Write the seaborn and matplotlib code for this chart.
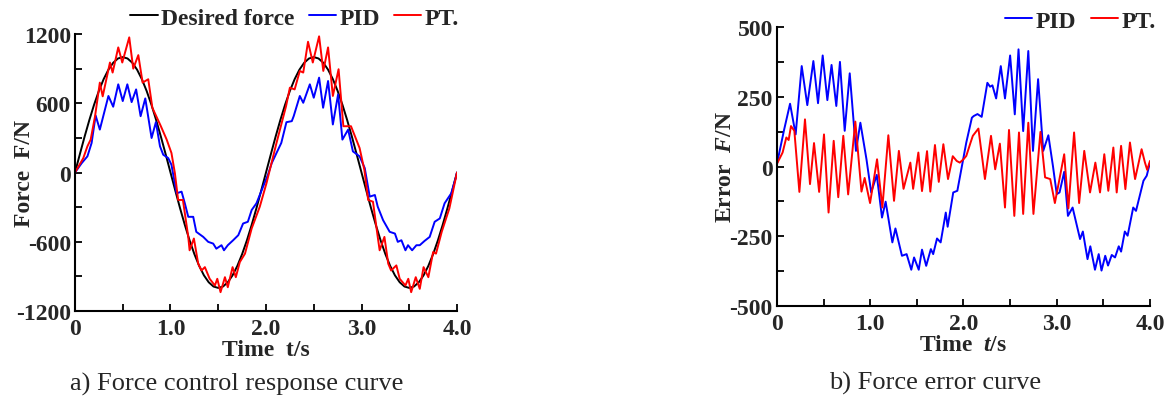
import numpy as np
import pandas as pd
import seaborn as sns
import matplotlib.pyplot as plt
from matplotlib.ticker import MultipleLocator

# --- Data ---
# Desired force, sampled every 0.05 s
desired_t = np.linspace(0, 4, 81)
desired_f = [0, 156, 309, 454, 588, 707, 809, 891, 951, 988, 1000, 988, 951, 891, 809, 707, 588, 454, 309, 156,
             0, -156, -309, -454, -588, -707, -809, -891, -951, -988, -1000, -988, -951, -891, -809, -707, -588,
             -454, -309, -156,
             0, 156, 309, 454, 588, 707, 809, 891, 951, 988, 1000, 988, 951, 891, 809, 707, 588, 454, 309, 156,
             0, -156, -309, -454, -588, -707, -809, -891, -951, -988, -1000, -988, -951, -891, -809, -707, -588,
             -454, -309, -156, 0]

pid_t = [0, 0.07, 0.13, 0.174, 0.216, 0.26, 0.35, 0.40, 0.453, 0.50, 0.548, 0.593, 0.64, 0.687, 0.736, 0.802,
         0.847, 0.89, 0.924, 0.976, 1.01, 1.064, 1.116, 1.15, 1.186, 1.238, 1.27, 1.343, 1.395, 1.447, 1.48,
         1.534, 1.56, 1.60, 1.656, 1.71, 1.76, 1.81, 1.85, 1.90, 1.97, 2.02, 2.06, 2.11, 2.16, 2.214, 2.27,
         2.29, 2.354, 2.39, 2.459, 2.50, 2.556, 2.598, 2.65, 2.70, 2.755, 2.80, 2.86, 2.91, 2.98, 3.034, 3.086,
         3.14, 3.17, 3.226, 3.295, 3.35, 3.38, 3.418, 3.46, 3.487, 3.53, 3.575, 3.61, 3.66, 3.714, 3.766, 3.82,
         3.87, 3.94, 3.99, 4.0]
pid_f = [0, 81, 140, 256, 494, 372, 663, 570, 764, 619, 764, 610, 720, 488, 642, 299, 436, 227, 154, 125, 67,
         -180, -166, -267, -384, -384, -514, -558, -601, -616, -660, -630, -674, -630, -587, -543, -442, -427,
         -325, -267, -122, -20, 81, 169, 256, 436, 445, 488, 663, 604, 764, 648, 822, 561, 793, 416, 677, 285,
         372, 183, 140, 38, -209, -195, -296, -413, -514, -529, -601, -587, -674, -630, -674, -630, -630, -593,
         -558, -427, -398, -267, -180, -35, 0]

pt_t = [0, 0.087, 0.13, 0.164, 0.21, 0.26, 0.29, 0.366, 0.394, 0.453, 0.495, 0.568, 0.61, 0.663, 0.708, 0.767,
        0.81, 0.896, 0.96, 1.01, 1.046, 1.08, 1.13, 1.186, 1.20, 1.245, 1.29, 1.325, 1.36, 1.41, 1.465, 1.49,
        1.524, 1.57, 1.60, 1.65, 1.684, 1.726, 1.78, 1.85, 1.935, 2.005, 2.11, 2.21, 2.25, 2.30, 2.354, 2.39,
        2.44, 2.49, 2.556, 2.60, 2.65, 2.70, 2.76, 2.81, 2.89, 2.98, 3.03, 3.07, 3.12, 3.17, 3.19, 3.24, 3.28,
        3.31, 3.365, 3.40, 3.46, 3.49, 3.52, 3.568, 3.61, 3.65, 3.70, 3.75, 3.78, 3.84, 3.92, 4.0]
pt_f = [0, 125, 227, 285, 488, 779, 660, 953, 866, 1084, 953, 1171, 900, 1017, 779, 808, 561, 407, 285, 169,
        -6, -238, -238, -558, -674, -572, -790, -849, -820, -921, -979, -921, -1037, -907, -994, -820, -907,
        -776, -703, -485, -296, -93, 256, 575, 735, 720, 880, 866, 1133, 953, 1180, 880, 1084, 663, 895, 401,
        401, 212, 23, -238, -253, -558, -674, -558, -790, -849, -805, -921, -979, -921, -1037, -907, -1008,
        -820, -907, -689, -703, -514, -311, 0]

pid_err_t = [0, 0.075, 0.14, 0.2, 0.265, 0.325, 0.39, 0.44, 0.49, 0.54, 0.585, 0.636, 0.675, 0.726, 0.78, 0.847,
             0.894, 0.96, 1.01, 1.07, 1.126, 1.165, 1.237, 1.27, 1.34, 1.39, 1.44, 1.47, 1.52, 1.555, 1.6, 1.65,
             1.675, 1.716, 1.755, 1.81, 1.83, 1.89, 1.934, 2.03, 2.09, 2.11, 2.15, 2.195, 2.256, 2.285, 2.31,
             2.35, 2.40, 2.445, 2.50, 2.55, 2.59, 2.64, 2.695, 2.745, 2.80, 2.855, 2.91, 2.96, 3.0, 3.03, 3.08,
             3.12, 3.17, 3.25, 3.28, 3.33, 3.36, 3.41, 3.45, 3.48, 3.52, 3.55, 3.59, 3.625, 3.665, 3.69, 3.73,
             3.76, 3.82, 3.85, 3.93, 3.965, 4.0]
pid_err = [10, 130, 225, 115, 360, 220, 378, 227, 398, 238, 364, 217, 375, 128, 334, 56, 157, 25, -93, -30,
           -183, -126, -272, -222, -320, -314, -370, -326, -370, -298, -356, -296, -314, -258, -272, -165, -216,
           -93, -87, 86, 175, 181, 188, 178, 300, 286, 291, 244, 360, 244, 398, 187, 420, 127, 414, 56, 313, 56,
           112, 0, -99, -93, -19, -177, -147, -260, -233, -332, -286, -370, -314, -373, -320, -355, -317, -326,
           -286, -305, -233, -248, -147, -159, -51, -33, 14]

pt_err_t = [0, 0.06, 0.1, 0.125, 0.15, 0.186, 0.24, 0.30, 0.354, 0.397, 0.452, 0.504, 0.553, 0.608, 0.657,
            0.711, 0.763, 0.84, 0.906, 0.94, 0.998, 1.073, 1.13, 1.194, 1.255, 1.307, 1.357, 1.43, 1.46, 1.516,
            1.555, 1.609, 1.644, 1.694, 1.735, 1.784, 1.834, 1.885, 1.927, 1.96, 2.0, 2.03, 2.076, 2.1, 2.16,
            2.23, 2.295, 2.34, 2.39, 2.445, 2.488, 2.545, 2.595, 2.64, 2.695, 2.75, 2.825, 2.875, 2.93, 2.98,
            3.08, 3.125, 3.186, 3.24, 3.295, 3.357, 3.414, 3.464, 3.51, 3.553, 3.607, 3.643, 3.69, 3.736, 3.785,
            3.84, 3.91, 3.946, 3.97, 4.0]
pt_err = [10, 50, 104, 95, 145, 128, -91, 169, -63, 84, -91, 115, -165, 92, -110, 110, -100, 161, -90, -41,
          -131, 26, -147, 112, -123, 56, -80, 14, -80, 50, -88, 55, -90, 77, -55, 80, -45, 37, 20, 14, 26, 38, 86,
          110, 136, -45, 110, -10, 82, -147, 131, -177, 122, -170, 157, -170, 124, -39, -45, -131, 44, -150, 122,
          -131, 56, -93, 14, -93, 44, -87, 68, -93, 74, -81, 86, -45, 62, 14, -12, 20]

series_colors = {"Desired force": "black", "PID": "#0000ff", "PT.": "#ff0000"}

force_df = pd.concat([
    pd.DataFrame({"t": desired_t, "v": desired_f, "series": "Desired force"}),
    pd.DataFrame({"t": pid_t, "v": pid_f, "series": "PID"}),
    pd.DataFrame({"t": pt_t, "v": pt_f, "series": "PT."}),
], ignore_index=True)

error_df = pd.concat([
    pd.DataFrame({"t": pid_err_t, "v": pid_err, "series": "PID"}),
    pd.DataFrame({"t": pt_err_t, "v": pt_err, "series": "PT."}),
], ignore_index=True)

# --- Style ---
sns.set_style("ticks")
plt.rcParams["font.family"] = ["Liberation Serif", "DejaVu Serif"]
plt.rcParams["font.weight"] = "bold"
plt.rcParams["axes.labelweight"] = "bold"
plt.rcParams["axes.unicode_minus"] = False
plt.rcParams["mathtext.fontset"] = "custom"
plt.rcParams["mathtext.rm"] = "Liberation Serif:bold"
plt.rcParams["mathtext.it"] = "Liberation Serif:italic:bold"

fig = plt.figure(figsize=(11.7, 4.02), dpi=100)
ax1 = fig.add_axes([0.0641, 0.2239, 0.3265, 0.689])
ax2 = fig.add_axes([0.6641, 0.2363, 0.3188, 0.694])

line_kws = dict(estimator=None, sort=False, lw=1.4, solid_joinstyle="round", solid_capstyle="round")
sns.lineplot(data=force_df, x="t", y="v", hue="series", hue_order=["Desired force", "PID", "PT."],
             palette=series_colors, ax=ax1, **line_kws)
sns.lineplot(data=error_df, x="t", y="v", hue="series", hue_order=["PID", "PT."],
             palette=series_colors, ax=ax2, **line_kws)


def style_axis(ax, ylim, yticks, yminor):
    ax.set_xlim(0, 4)
    ax.set_ylim(*ylim)
    ax.set_xticks([0, 1, 2, 3, 4], ["0", "1.0", "2.0", "3.0", "4.0"])
    ax.xaxis.set_minor_locator(MultipleLocator(0.5))
    ax.set_yticks(yticks, [str(v) for v in yticks])
    ax.yaxis.set_minor_locator(MultipleLocator(yminor))
    sns.despine(ax=ax)
    for side in ("left", "bottom"):
        ax.spines[side].set_linewidth(1.5)
        ax.spines[side].set_color("black")
    ax.tick_params(which="both", direction="in", length=5, width=1.3, color="black")
    ax.tick_params(axis="x", labelsize=17, pad=5)
    ax.tick_params(axis="y", labelsize=17, pad=3)


style_axis(ax1, (-1200, 1200), [-1200, -600, 0, 600, 1200], 300)
style_axis(ax2, (-500, 500), [-500, -250, 0, 250, 500], 125)

ax1.set_xlabel("Time  t/s", fontsize=17, fontweight="bold", labelpad=0)
ax1.set_ylabel("Force  F/N", fontsize=17, fontweight="bold")
ax1.yaxis.set_label_coords(-0.105, 0.5)
ax2.set_xlabel(r"Time  $\mathit{t}$/s", fontsize=17, fontweight="bold", labelpad=0)
ax2.set_ylabel(r"Error  $\mathit{F}$/N", fontsize=17, fontweight="bold")
ax2.yaxis.set_label_coords(-0.11, 0.5)

sns.move_legend(ax1, "lower right", bbox_to_anchor=(1.03, 0.985), ncol=3, frameon=False, title=None,
                fontsize=17, handlelength=1.15, handletextpad=0.15, columnspacing=0.6, borderaxespad=0)
sns.move_legend(ax2, "lower right", bbox_to_anchor=(1.04, 0.95), ncol=2, frameon=False, title=None,
                fontsize=17, handlelength=1.15, handletextpad=0.15, columnspacing=0.6, borderaxespad=0)

fig.text(237 / 1170, 1 - 384 / 402, "a) Force control response curve", ha="center", va="center",
         fontsize=19, fontweight="normal")
fig.text(935 / 1170, 1 - 383 / 402, "b) Force error curve", ha="center", va="center",
         fontsize=19, fontweight="normal")

fig.savefig("out.png", dpi=100)
